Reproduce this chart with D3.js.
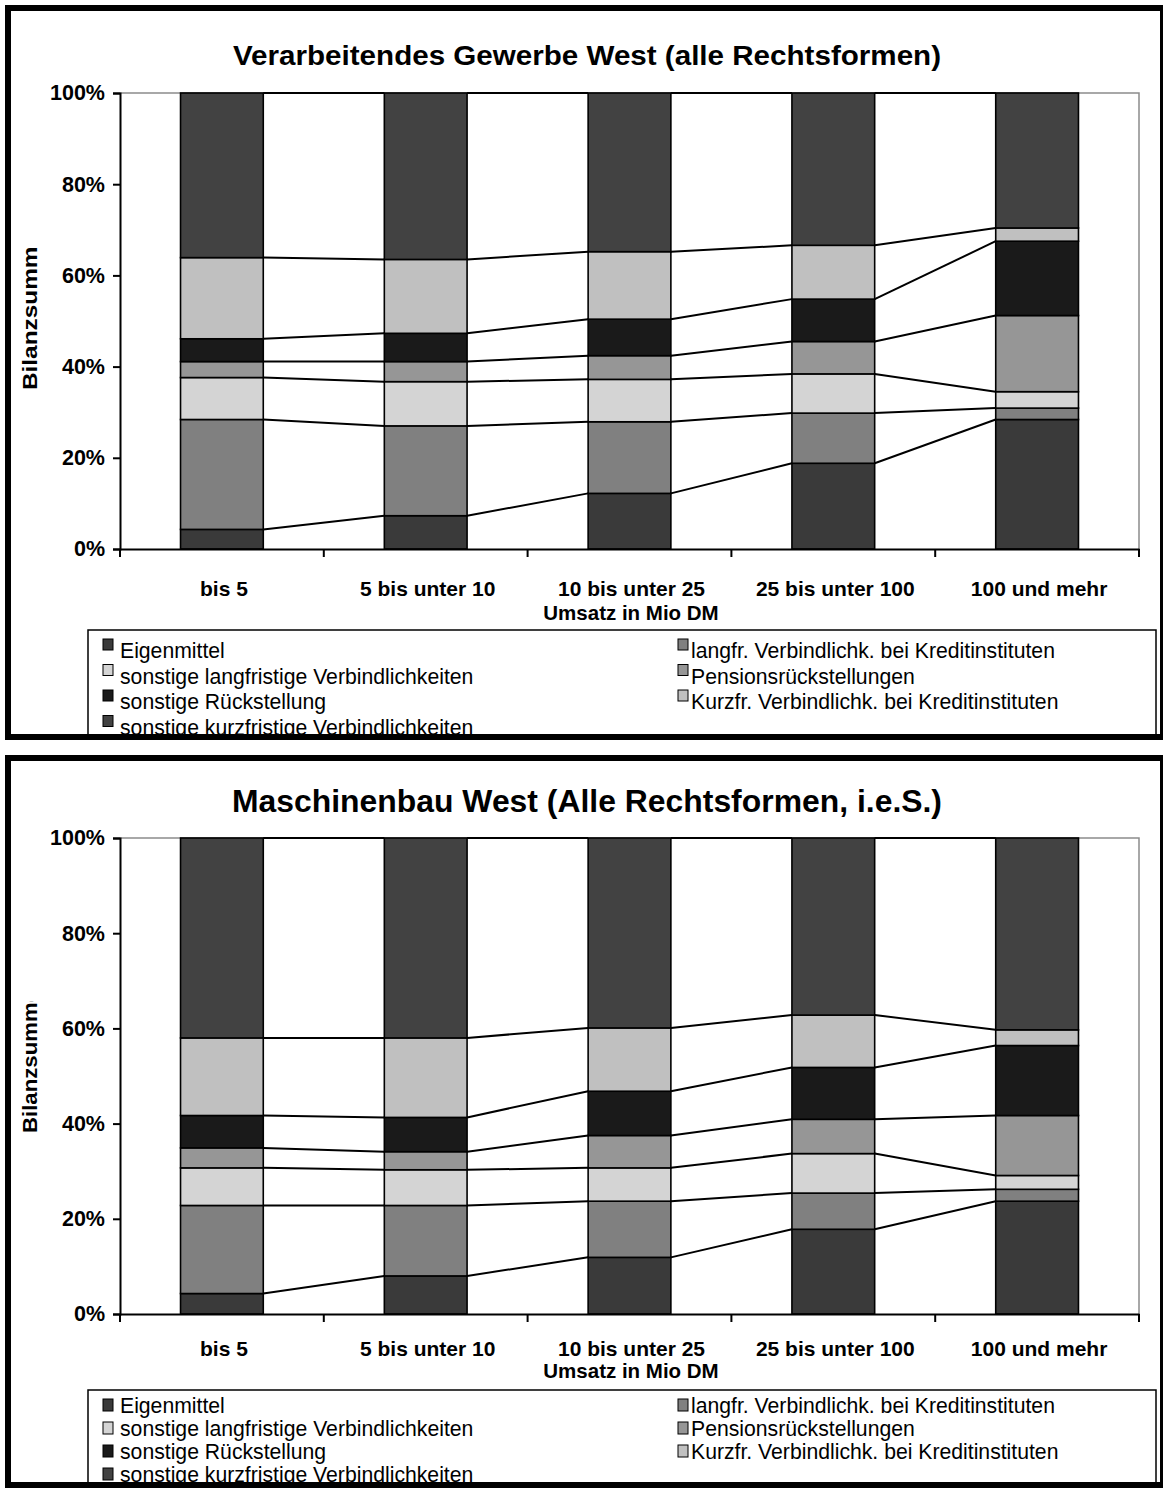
<!DOCTYPE html>
<html><head><meta charset="utf-8">
<script src="https://cdn.jsdelivr.net/npm/d3@7"></script>
<style>body{margin:0;background:#fff}svg{display:block}text{font-family:"Liberation Sans",Arial,sans-serif}</style>
</head><body>
<script>
const categories = ["bis 5","5 bis unter 10","10 bis unter 25","25 bis unter 100","100 und mehr"];
const seriesNames = ["Eigenmittel","langfr. Verbindlichk. bei Kreditinstituten","sonstige langfristige Verbindlichkeiten","Pensionsrückstellungen","sonstige Rückstellung","Kurzfr. Verbindlichk. bei Kreditinstituten","sonstige kurzfristige Verbindlichkeiten"];
const seriesColors = ["#3a3a3a","#808080","#d4d4d4","#969696","#1a1a1a","#c0c0c0","#424242"];
const yTicks = [0,20,40,60,80,100];
const yTickLabels = ["0%","20%","40%","60%","80%","100%"];
const xTitle = "Umsatz in Mio DM";
const yTitle = "Bilanzsumme";

// Chart 1: Verarbeitendes Gewerbe West
const title1 = "Verarbeitendes Gewerbe West (alle Rechtsformen)";
const vg_eigenmittel   = [4.3, 7.3, 12.2, 18.8, 28.4];
const vg_langfrKredit  = [24.1, 19.7, 15.7, 11.0, 2.5];
const vg_sonstLangfr   = [9.2, 9.7, 9.3, 8.6, 3.6];
const vg_pension       = [3.5, 4.4, 5.2, 7.1, 16.7];
const vg_sonstRueck    = [5.0, 6.2, 8.0, 9.3, 16.3];
const vg_kurzfrKredit  = [17.8, 16.2, 14.8, 11.8, 2.9];
const vg_sonstKurzfr   = [36.1, 36.5, 34.8, 33.4, 29.6];

// Chart 2: Maschinenbau West
const title2 = "Maschinenbau West (Alle Rechtsformen, i.e.S.)";
const mb_eigenmittel   = [4.3, 8.0, 11.9, 17.8, 23.7];
const mb_langfrKredit  = [18.5, 14.8, 11.8, 7.6, 2.5];
const mb_sonstLangfr   = [7.9, 7.5, 7.0, 8.3, 2.9];
const mb_pension       = [4.2, 3.8, 6.8, 7.2, 12.6];
const mb_sonstRueck    = [6.8, 7.2, 9.3, 10.9, 14.7];
const mb_kurzfrKredit  = [16.3, 16.7, 13.3, 11.0, 3.3];
const mb_sonstKurzfr   = [42.0, 42.0, 39.9, 37.2, 40.3];

const svg = d3.select("body").append("svg").attr("width",1163).attr("height",1488);

function drawChart(cfg){
  const series = cfg.series;
  const rows = categories.map((c,i)=>{
    const o = {cat:c};
    series.forEach((s,k)=>o["s"+k]=s[i]);
    return o;
  });
  const keys = series.map((s,k)=>"s"+k);
  const stacked = d3.stack().keys(keys).offset(d3.stackOffsetExpand)(rows);

  const g = svg.append("g");
  const x = d3.scaleBand().domain(categories).range([cfg.left,cfg.right]).padding(0);
  const y = d3.scaleLinear().domain([0,1]).range([cfg.bottom,cfg.top]);
  const bw = x.bandwidth()*0.406;
  const bx = c => x(c)+ (x.bandwidth()-bw)/2;

  // outer frame background
  g.append("rect").attr("x",cfg.frame[0]).attr("y",cfg.frame[1]).attr("width",cfg.frame[2]).attr("height",cfg.frame[3])
    .attr("fill","#fff").attr("stroke","#000").attr("stroke-width",6);

  // title
  g.append("text").attr("x",587).attr("y",cfg.titleY).attr("text-anchor","middle")
    .attr("font-weight","bold").attr("font-size",cfg.titleSize)
    .attr("textLength",cfg.titleLen).attr("lengthAdjust","spacingAndGlyphs").text(cfg.title);

  // plot border (gray top/right)
  g.append("path").attr("d",`M${cfg.left},${cfg.top}H${cfg.right}V${cfg.bottom}`)
    .attr("fill","none").attr("stroke","#8c8c8c").attr("stroke-width",1.5);

  // bars
  stacked.forEach((layer,k)=>{
    g.append("g").selectAll("rect").data(layer).join("rect")
      .attr("x",d=>bx(d.data.cat)).attr("width",bw)
      .attr("y",d=>y(d[1])).attr("height",d=>y(d[0])-y(d[1]))
      .attr("fill",seriesColors[k]).attr("stroke","#000").attr("stroke-width",1.6);
  });
  // series lines
  stacked.forEach((layer,k)=>{
    for(let i=0;i<layer.length-1;i++){
      const a=layer[i], b=layer[i+1];
      g.append("line").attr("x1",bx(a.data.cat)+bw).attr("y1",y(a[1]))
        .attr("x2",bx(b.data.cat)).attr("y2",y(b[1]))
        .attr("stroke","#000").attr("stroke-width",2);
    }
  });

  // y axis
  const ya = d3.axisLeft(d3.scaleLinear().domain([0,100]).range([cfg.bottom,cfg.top]))
    .tickValues(yTicks).tickFormat((d,i)=>yTickLabels[i]).tickSize(7).tickPadding(8);
  const yg = g.append("g").attr("transform",`translate(${cfg.left},0)`).call(ya);
  yg.select(".domain").attr("stroke","#000").attr("stroke-width",2);
  yg.selectAll(".tick line").attr("stroke","#000").attr("stroke-width",2);
  yg.selectAll(".tick text").attr("font-size",21.5).attr("font-weight","bold").attr("fill","#000")
    .attr("font-family","Liberation Sans, Arial, sans-serif").attr("x",-15);

  // x axis
  const xa = d3.axisBottom(x).tickValues([]).tickSizeOuter(0);
  const xg = g.append("g").attr("transform",`translate(0,${cfg.bottom})`).call(xa);
  xg.select(".domain").attr("stroke","#000").attr("stroke-width",2);
  const bounds = categories.map(c=>x(c)).concat([cfg.right]);
  g.append("g").selectAll("line").data(bounds).join("line")
    .attr("x1",d=>d).attr("x2",d=>d).attr("y1",cfg.bottom).attr("y2",cfg.bottom+8)
    .attr("stroke","#000").attr("stroke-width",2);
  g.append("g").selectAll("text").data(categories).join("text")
    .attr("x",c=>x(c)+x.bandwidth()/2+2).attr("y",cfg.catY).attr("text-anchor","middle")
    .attr("font-size",21).attr("font-weight","bold").text(c=>c);
  g.append("text").attr("x",631).attr("y",cfg.xTitleY).attr("text-anchor","middle")
    .attr("font-size",20.5).attr("font-weight","bold").text(xTitle);

  // y title (clipped at top)
  const cid = "clip"+cfg.id;
  svg.append("clipPath").attr("id",cid).append("rect").attr("x",0).attr("y",cfg.yClip).attr("width",100).attr("height",400);
  g.append("g").attr("clip-path",`url(#${cid})`).append("text")
    .attr("transform",`translate(37,${cfg.yTitleStart}) rotate(-90)`)
    .attr("font-size",21).attr("font-weight","bold")
    .attr("textLength",cfg.yTitleLen).attr("lengthAdjust","spacingAndGlyphs").text(yTitle);

  // legend
  const lg = g.append("g");
  const legClip = "lclip"+cfg.id;
  svg.append("clipPath").attr("id",legClip).append("rect")
    .attr("x",0).attr("y",cfg.legTop-1).attr("width",1163).attr("height",cfg.legBottom-cfg.legTop+1);
  lg.attr("clip-path",`url(#${legClip})`);
  lg.append("rect").attr("x",88).attr("y",cfg.legTop).attr("width",1068).attr("height",cfg.legBottom-cfg.legTop+10)
    .attr("fill","#fff").attr("stroke","#000").attr("stroke-width",1.5);
  seriesNames.forEach((n,k)=>{
    const col = k%2, row = Math.floor(k/2);
    const lx = col===0?103:678;
    const base = cfg.legY0 + row*cfg.legDy;
    lg.append("rect").attr("x",lx).attr("y",base+cfg.markOff).attr("width",10).attr("height",cfg.markH)
      .attr("fill",seriesColors[k]).attr("stroke","#000").attr("stroke-width",1);
    lg.append("text").attr("x",lx+(col===0?17:13)).attr("y",base).attr("font-size",21.2).text(n);
  });
  // frame stroke over everything
  g.append("rect").attr("x",cfg.frame[0]).attr("y",cfg.frame[1]).attr("width",cfg.frame[2]).attr("height",cfg.frame[3])
    .attr("fill","none").attr("stroke","#000").attr("stroke-width",6);
}

drawChart({id:1,title:title1,titleY:65,titleSize:27,titleLen:708,
  series:[vg_eigenmittel,vg_langfrKredit,vg_sonstLangfr,vg_pension,vg_sonstRueck,vg_kurzfrKredit,vg_sonstKurzfr],
  left:120,right:1139,top:93,bottom:549,frame:[8,8,1155,729],
  catY:596,xTitleY:620,yClip:247,yTitleStart:390,yTitleLen:157,
  legTop:630,legBottom:734,legY0:658,legDy:25.5,markOff:-19,markH:11});

drawChart({id:2,title:title2,titleY:812,titleSize:31,titleLen:710,
  series:[mb_eigenmittel,mb_langfrKredit,mb_sonstLangfr,mb_pension,mb_sonstRueck,mb_kurzfrKredit,mb_sonstKurzfr],
  left:120,right:1139,top:838,bottom:1314,frame:[8,758,1155,727],
  catY:1356,xTitleY:1378,yClip:1001,yTitleStart:1133,yTitleLen:143,
  legTop:1390,legBottom:1485,legY0:1413,legDy:23,markOff:-14,markH:12});
</script>
</body></html>
